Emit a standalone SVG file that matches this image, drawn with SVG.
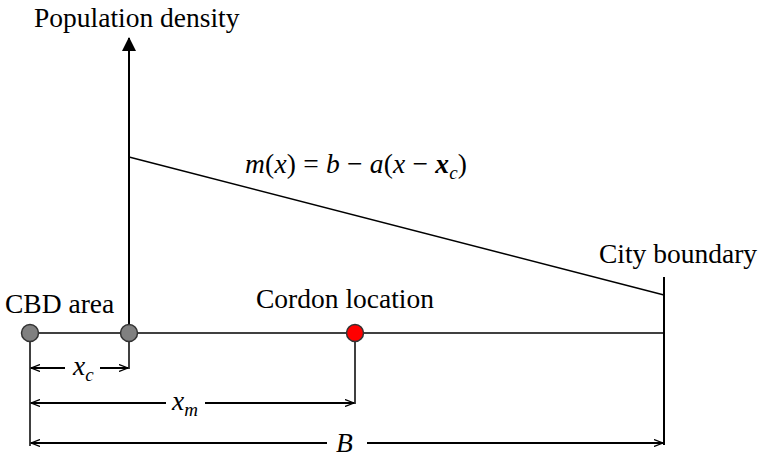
<svg xmlns="http://www.w3.org/2000/svg" width="763" height="457" viewBox="0 0 763 457">
<style>
text{font-family:"Liberation Serif","Times New Roman",serif;font-size:27.5px;fill:#000}
.it{font-style:italic}
.sub{font-size:19px}
.ln{stroke:#000;stroke-width:1.5;fill:none}
.dim{stroke:#000;stroke-width:2;fill:none}
.node{stroke:#333;stroke-width:1.5}
</style>
<defs>
<marker id="tri" markerWidth="14" markerHeight="14" refX="13" refY="7" orient="auto" markerUnits="userSpaceOnUse">
<path d="M0,0 L14,7 L0,14 Z" fill="#000"/>
</marker>
<marker id="chev" markerWidth="10" markerHeight="8" refX="9" refY="4" orient="auto-start-reverse" markerUnits="userSpaceOnUse">
<path d="M0,0.5 L9,4 L0,7.5" fill="none" stroke="#000" stroke-width="1.3"/>
</marker>
</defs>
<g id="connectors">
<line class="dim" x1="129" y1="333" x2="129" y2="38" marker-end="url(#tri)"/>
<line class="ln" x1="30" y1="333" x2="664" y2="333"/>
<line class="ln" x1="129" y1="157" x2="664" y2="295"/>
<line class="dim" x1="664" y1="277" x2="664" y2="445"/>
<line class="ln" x1="30" y1="333" x2="30" y2="446"/>
<line class="ln" x1="129" y1="333" x2="129" y2="369"/>
<line class="ln" x1="355" y1="333" x2="355" y2="404"/>
<line class="dim" x1="31" y1="368" x2="65" y2="368" marker-start="url(#chev)"/>
<line class="dim" x1="100" y1="368" x2="128" y2="368" marker-end="url(#chev)"/>
<line class="dim" x1="31" y1="403" x2="166" y2="403" marker-start="url(#chev)"/>
<line class="dim" x1="205" y1="403" x2="354" y2="403" marker-end="url(#chev)"/>
<line class="dim" x1="31" y1="443" x2="327" y2="443" marker-start="url(#chev)"/>
<line class="dim" x1="367" y1="443" x2="663" y2="443" marker-end="url(#chev)"/>
</g>
<g id="node-cbd">
<circle class="node" cx="30" cy="333" r="8.5" fill="#808080"/>
<text x="5" y="313">CBD area</text>
</g>
<g id="node-xc">
<circle class="node" cx="129" cy="333" r="8.5" fill="#808080"/>
</g>
<g id="node-cordon">
<circle class="node" cx="355" cy="333" r="8.5" fill="#ff0000"/>
<text x="256" y="308">Cordon location</text>
</g>
<g id="node-boundary">
<text x="599" y="263">City boundary</text>
</g>
<g id="labels">
<text x="34" y="27">Population density</text>
<text x="245" y="173" textLength="222" lengthAdjust="spacing"><tspan class="it">m</tspan>(<tspan class="it">x</tspan>) = <tspan class="it">b</tspan> − <tspan class="it">a</tspan>(<tspan class="it">x</tspan> − <tspan class="it" font-weight="bold">x</tspan><tspan class="it sub" dy="6">c</tspan><tspan dy="-6">)</tspan></text>
<text x="73" y="375" class="it">x<tspan class="sub" dy="6">c</tspan></text>
<text x="172" y="410" class="it">x<tspan class="sub" dy="6">m</tspan></text>
<text x="336" y="452" class="it">B</text>
</g>
</svg>
